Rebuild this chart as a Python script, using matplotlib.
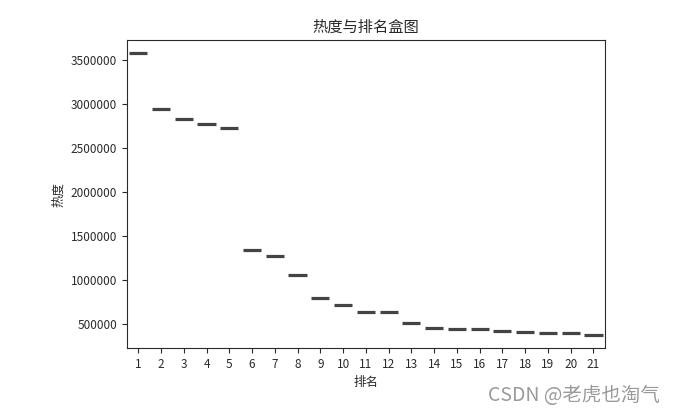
import numpy as np
import matplotlib
matplotlib.use('Agg')
import matplotlib.pyplot as plt

plt.rcParams['font.family'] = ['Noto Sans CJK SC', 'DejaVu Sans']
plt.rcParams['axes.unicode_minus'] = False

# rank and heat values
ranks = list(range(1, 22))
heat = [3587000, 2951000, 2827000, 2777000, 2728000, 1339000, 1275000,
        1057000, 797000, 713000, 632000, 632000, 512000, 457000, 439000,
        439000, 423000, 408000, 393000, 393000, 374000]

fig = plt.figure(figsize=(6.75, 4.13), dpi=100)
ax = fig.add_axes([0.188, 0.157, 0.708, 0.746])

# one value per rank, so each box collapses to a flat line
line_kw = dict(color='#444444', linewidth=2.3, solid_capstyle='butt')
ax.boxplot([[h] for h in heat], positions=range(len(ranks)), widths=0.8,
           showfliers=False, boxprops=dict(linewidth=0),
           medianprops=line_kw, whiskerprops=dict(linewidth=0),
           capprops=dict(linewidth=0))

ax.set_xticks(range(len(ranks)))
ax.set_xticklabels([str(r) for r in ranks])
ax.set_xlim(-0.5, len(ranks) - 0.5)
ax.set_ylim(225000, 3730000)
ax.set_yticks([500000, 1000000, 1500000, 2000000, 2500000, 3000000, 3500000])
ax.ticklabel_format(axis='y', style='plain', useOffset=False)
ax.tick_params(labelsize=8.5, colors='#2a2a2a', length=3.5)
for s in ax.spines.values():
    s.set_color('#2a2a2a')

ax.set_title('热度与排名盒图', fontsize=11, color='#2a2a2a', weight='medium')
ax.set_xlabel('排名', fontsize=9, color='#2a2a2a', weight='medium')
ax.set_ylabel('热度', fontsize=9, color='#2a2a2a', weight='medium')

fig.text(0.978, 0.043, 'CSDN @老虎也淘气', ha='right', va='center',
         fontsize=14, color='#9a9a9a', weight='light')

fig.savefig('out.png', dpi=100)
